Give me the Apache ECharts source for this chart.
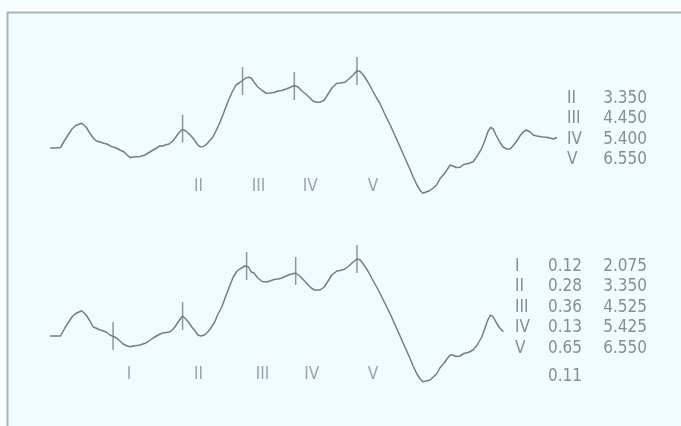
<!DOCTYPE html>
<html>
<head>
<meta charset="utf-8">
<style>
  html, body { margin: 0; padding: 0; background: #f8fdfe; }
  #chart { width: 681px; height: 426px; }
</style>
<script src="https://cdn.jsdelivr.net/npm/echarts@6/dist/echarts.min.js"></script>
</head>
<body>
<div id="chart"></div>
<script>
// Auditory brainstem response, two recordings. Time in ms, amplitude in µV.
const upperWave = [
  [0.92,0.00],[1.01,0.00],[1.11,0.005],[1.19,0.08],[1.32,0.19],[1.39,0.225],[1.50,0.247],[1.58,0.21],
  [1.65,0.147],[1.71,0.10],[1.77,0.07],[1.84,0.06],[1.90,0.047],[1.96,0.04],[2.05,0.013],[2.11,0.005],
  [2.20,-0.02],[2.28,-0.04],[2.33,-0.07],[2.39,-0.097],[2.44,-0.09],[2.51,-0.087],[2.57,-0.085],[2.66,-0.07],
  [2.72,-0.05],[2.75,-0.045],[2.81,-0.02],[2.86,-0.005],[2.94,0.023],[2.99,0.02],[3.05,0.035],[3.09,0.037],
  [3.16,0.065],[3.21,0.097],[3.28,0.15],[3.35,0.187],[3.41,0.17],[3.47,0.14],[3.52,0.113],[3.58,0.07],
  [3.63,0.03],[3.67,0.013],[3.73,0.015],[3.79,0.037],[3.85,0.075],[3.91,0.113],[3.98,0.19],[4.04,0.263],
  [4.11,0.36],[4.18,0.46],[4.26,0.56],[4.33,0.63],[4.40,0.655],[4.46,0.68],[4.51,0.70],[4.56,0.707],
  [4.61,0.70],[4.66,0.66],[4.73,0.61],[4.81,0.575],[4.89,0.547],[4.95,0.55],[5.03,0.555],[5.10,0.57],
  [5.17,0.575],[5.25,0.59],[5.32,0.605],[5.40,0.625],[5.47,0.61],[5.54,0.57],[5.62,0.535],[5.69,0.50],
  [5.74,0.47],[5.81,0.457],[5.87,0.457],[5.95,0.48],[6.02,0.54],[6.09,0.60],[6.18,0.647],[6.24,0.65],
  [6.33,0.657],[6.40,0.69],[6.48,0.73],[6.55,0.773],[6.61,0.765],[6.68,0.72],[6.75,0.66],[6.83,0.58],
  [6.90,0.51],[6.97,0.447],[7.06,0.34],[7.16,0.23],[7.25,0.12],[7.34,0.013],[7.43,-0.10],[7.52,-0.21],
  [7.58,-0.287],[7.65,-0.37],[7.71,-0.425],[7.76,-0.453],[7.82,-0.44],[7.89,-0.425],[7.95,-0.40],[8.01,-0.37],
  [8.07,-0.31],[8.15,-0.26],[8.20,-0.22],[8.26,-0.17],[8.31,-0.18],[8.37,-0.195],[8.44,-0.193],[8.51,-0.165],
  [8.59,-0.155],[8.68,-0.137],[8.75,-0.085],[8.84,-0.003],[8.90,0.08],[8.95,0.16],[9.00,0.207],[9.05,0.19],
  [9.10,0.13],[9.17,0.06],[9.23,0.01],[9.30,-0.01],[9.36,-0.01],[9.41,0.02],[9.47,0.06],[9.54,0.12],
  [9.60,0.16],[9.66,0.18],[9.73,0.16],[9.78,0.13],[9.85,0.12],[9.91,0.115],[9.96,0.11],[10.03,0.107],
  [10.09,0.10],[10.15,0.09],[10.18,0.09],[10.22,0.105]
];

const lowerWave = [
  [0.92,0.00],[1.01,0.00],[1.11,0.00],[1.19,0.08],[1.32,0.19],[1.39,0.225],[1.50,0.253],[1.58,0.21],
  [1.65,0.15],[1.71,0.09],[1.77,0.077],[1.84,0.06],[1.90,0.05],[1.96,0.035],[2.02,0.01],[2.08,-0.005],
  [2.14,-0.02],[2.20,-0.05],[2.26,-0.08],[2.33,-0.10],[2.39,-0.107],[2.44,-0.10],[2.51,-0.095],[2.57,-0.09],
  [2.66,-0.073],[2.72,-0.055],[2.75,-0.04],[2.81,-0.02],[2.87,0.00],[2.94,0.02],[2.99,0.03],[3.05,0.035],
  [3.12,0.043],[3.16,0.06],[3.21,0.09],[3.28,0.15],[3.35,0.20],[3.41,0.17],[3.47,0.13],[3.52,0.09],
  [3.58,0.05],[3.63,0.01],[3.69,0.00],[3.75,0.01],[3.81,0.04],[3.87,0.08],[3.94,0.14],[4.00,0.22],
  [4.07,0.29],[4.13,0.38],[4.20,0.48],[4.28,0.59],[4.35,0.65],[4.43,0.68],[4.49,0.70],[4.525,0.71],
  [4.56,0.69],[4.61,0.64],[4.66,0.63],[4.73,0.58],[4.81,0.545],[4.89,0.54],[4.95,0.55],[5.03,0.565],
  [5.10,0.57],[5.17,0.58],[5.25,0.60],[5.32,0.615],[5.425,0.63],[5.50,0.60],[5.57,0.56],[5.64,0.52],
  [5.71,0.48],[5.77,0.46],[5.81,0.46],[5.87,0.46],[5.95,0.49],[6.02,0.55],[6.09,0.61],[6.18,0.65],
  [6.24,0.655],[6.33,0.67],[6.40,0.70],[6.48,0.74],[6.55,0.77],[6.61,0.76],[6.68,0.71],[6.75,0.65],
  [6.83,0.57],[6.90,0.50],[6.97,0.43],[7.06,0.33],[7.16,0.22],[7.25,0.11],[7.34,0.00],[7.43,-0.11],
  [7.52,-0.22],[7.58,-0.30],[7.65,-0.38],[7.71,-0.43],[7.76,-0.457],[7.82,-0.45],[7.89,-0.44],[7.95,-0.41],
  [8.01,-0.38],[8.07,-0.32],[8.15,-0.27],[8.20,-0.23],[8.26,-0.19],[8.31,-0.19],[8.37,-0.205],[8.44,-0.20],
  [8.51,-0.175],[8.59,-0.165],[8.68,-0.14],[8.75,-0.095],[8.84,-0.01],[8.90,0.08],[8.95,0.16],[9.00,0.21],
  [9.05,0.19],[9.11,0.13],[9.17,0.08],[9.235,0.043]
];

// Marked waves: names, latencies (ms), level of the trace at the mark
const upperWaveNames = ['II', 'III', 'IV', 'V'];
const upperLatencies = [3.350, 4.450, 5.400, 6.550];
const upperMarkLevels = [0.195, 0.67, 0.62, 0.77];

const lowerWaveNames = ['I', 'II', 'III', 'IV', 'V'];
const lowerLatencies = [2.075, 3.350, 4.525, 5.425, 6.550];
const lowerMarkLevels = [0.0, 0.20, 0.70, 0.65, 0.77];
const lowerAmplitudes = [0.12, 0.28, 0.36, 0.13, 0.65];
const lowerExtraAmplitude = 0.11;

const INK = '#737f82';
const TEXT = '#858f92';
const FONT = "'Liberation Sans Narrow', 'DejaVu Sans Condensed', 'Roboto', sans-serif";
const FONT_SIZE = 17;
const LABEL_LEVEL = -0.39;

function markData(lat, lvl) { return lat.map((t, i) => [t, lvl[i]]); }
function nameData(lat, names) { return lat.map((t, i) => ({ value: [t, LABEL_LEVEL], name: names[i] })); }

const chart = echarts.init(document.getElementById('chart'), null, { renderer: 'canvas' });

const gridTops = [40, 228];
const axisX = i => ({ type: 'value', gridIndex: i, min: 0, max: 12, show: false });
const axisY = i => ({ type: 'value', gridIndex: i, min: -0.52, max: 1.08, show: false });

function traceSeries(i, data) {
  return {
    type: 'line', xAxisIndex: i, yAxisIndex: i, data: data,
    showSymbol: false, smooth: false, animation: false, silent: true,
    lineStyle: { color: INK, width: 1.5 }
  };
}
function markSeries(i, data) {
  return {
    type: 'scatter', xAxisIndex: i, yAxisIndex: i, data: data,
    symbol: 'rect', symbolSize: [1.5, 28], animation: false, silent: true,
    itemStyle: { color: INK }
  };
}
function nameSeries(i, data) {
  return {
    type: 'scatter', xAxisIndex: i, yAxisIndex: i, data: data,
    symbolSize: 0, animation: false, silent: true,
    label: {
      show: true, position: 'inside', offset: [16, 0],
      formatter: p => p.name, color: TEXT,
      fontFamily: FONT, fontSize: FONT_SIZE
    }
  };
}

// Result tables to the right of each trace
const tableElems = [];
function addText(x, y, text, align) {
  tableElems.push({
    type: 'text', x: x, y: y, silent: true,
    style: { text: text, fill: TEXT, font: FONT_SIZE + 'px ' + FONT, textAlign: align, textVerticalAlign: 'middle' }
  });
}
const upperRow0 = 98.5, lowerRow0 = 266.5, rowStep = 20.4;
upperWaveNames.forEach((n, i) => {
  addText(567, upperRow0 + i * rowStep, n, 'left');
  addText(647, upperRow0 + i * rowStep, upperLatencies[i].toFixed(3), 'right');
});
lowerWaveNames.forEach((n, i) => {
  addText(515, lowerRow0 + i * rowStep, n, 'left');
  addText(548, lowerRow0 + i * rowStep, lowerAmplitudes[i].toFixed(2), 'left');
  addText(647, lowerRow0 + i * rowStep, lowerLatencies[i].toFixed(3), 'right');
});
addText(548, lowerRow0 + 5 * rowStep + 8, lowerExtraAmplitude.toFixed(2), 'left');

chart.setOption({
  backgroundColor: '#f8fdfe',
  animation: false,
  grid: gridTops.map(t => ({ left: 0, width: 654, top: t, height: 160 })),
  xAxis: [axisX(0), axisX(1)],
  yAxis: [axisY(0), axisY(1)],
  graphic: [
    { type: 'rect', z: -10, silent: true, shape: { x: 8, y: 13, width: 680, height: 420 }, style: { fill: '#effbfd' } },
    { type: 'polyline', z: -9, silent: true, shape: { points: [[7.5, 430], [7.5, 12.5], [690, 12.5]] },
      style: { stroke: '#aab6b6', lineWidth: 2, fill: null } }
  ].concat(tableElems),
  series: [
    traceSeries(0, upperWave),
    traceSeries(1, lowerWave),
    markSeries(0, markData(upperLatencies, upperMarkLevels)),
    markSeries(1, markData(lowerLatencies, lowerMarkLevels)),
    nameSeries(0, nameData(upperLatencies, upperWaveNames)),
    nameSeries(1, nameData(lowerLatencies, lowerWaveNames))
  ]
});
</script>
</body>
</html>
